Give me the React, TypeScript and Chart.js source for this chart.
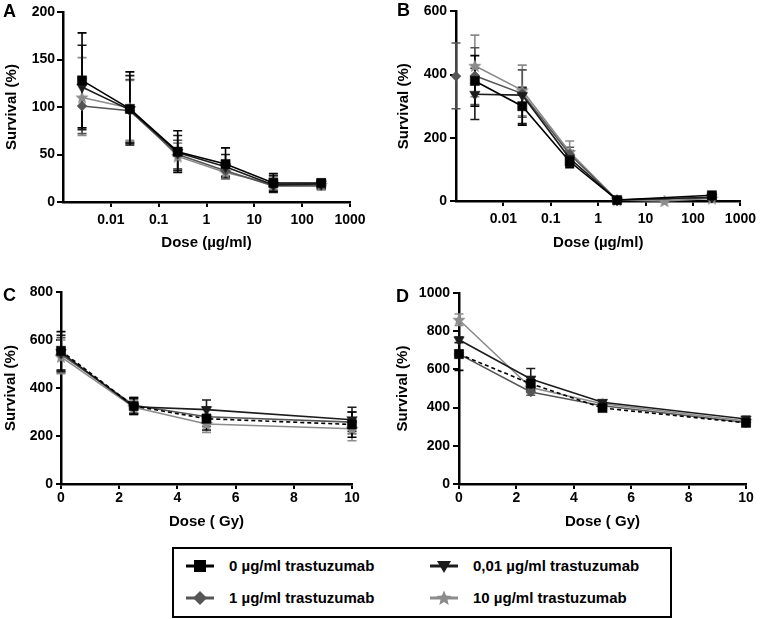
import React, { useEffect, useRef } from 'react';
import { Chart, registerables } from 'chart.js';
Chart.register(...registerables);

const FONT = '"Liberation Sans", Arial, Helvetica, sans-serif';

// ---------- shared ----------
const seriesNames = ['0 µg/ml trastuzumab', '0,01 µg/ml trastuzumab', '1 µg/ml trastuzumab', '10 µg/ml trastuzumab'];
const seriesColors = ['#000000', '#1c1c1c', '#555555', '#8c8c8c'];

// ---------- panels A & B (log dose) ----------
const doseAB = [0.0025, 0.025, 0.25, 2.5, 25, 250];
const logTickValues = [0.01, 0.1, 1, 10, 100, 1000];
const logTickLabels = ['0.01', '0.1', '1', '10', '100', '1000'];

const yTicksA = [0, 50, 100, 150, 200];
const aSq = [128, 98, 53, 40, 20, 20];
const aSqHi = [178, 137, 75, 57, 30, 24];
const aSqLo = [78, 60, 31, 27, 11, 15];
const aTri = [121, 97, 52, 37, 18, 19];
const aTriHi = [165, 133, 70, 50, 28, 23];
const aTriLo = [76, 62, 33, 26, 10, 14];
const aDia = [101, 96, 50, 33, 17, 17];
const aDiaHi = [130, 129, 65, 42, 25, 21];
const aDiaLo = [72, 63, 35, 25, 12, 13];
const aStar = [110, 99, 48, 31, 19, 18];
const aStarHi = [152, 128, 62, 40, 27, 22];
const aStarLo = [70, 65, 34, 24, 13, 14];

const yTicksB = [0, 200, 400, 600];
const bSq = [380, 300, 125, 3, null, 18];
const bSqHi = [460, 355, 145, 6, null, 25];
const bSqLo = [300, 240, 105, 0, null, 12];
const bTri = [338, 335, 135, 3, null, 12];
const bTriHi = [420, 360, 160, 6, null, 16];
const bTriLo = [258, 245, 110, 0, null, 8];
const bDia = [396, 340, 148, 3, null, 10];
const bDiaHi = [485, 415, 170, 6, null, 14];
const bDiaLo = [305, 265, 125, 0, null, 6];
const bStar = [428, 350, 155, 3, 0, 8];
const bStarHi = [525, 430, 190, 6, 2, 12];
const bStarLo = [330, 270, 120, 0, 0, 4];
// extra point drawn on the y axis of panel B
const bExtraDose = [0.001];
const bExtra = [395];
const bExtraHi = [500];
const bExtraLo = [292];

// ---------- panels C & D (Gy) ----------
const doseCD = [0, 2.5, 5, 10];
const xTicksGy = [0, 2, 4, 6, 8, 10];

const yTicksC = [0, 200, 400, 600, 800];
const cSq = [555, 325, 272, 248];
const cSqHi = [635, 360, 320, 300];
const cSqLo = [475, 290, 225, 195];
const cTri = [548, 322, 310, 268];
const cTriHi = [620, 355, 350, 320];
const cTriLo = [470, 295, 270, 220];
const cDia = [540, 328, 280, 258];
const cDiaHi = [610, 360, 320, 300];
const cDiaLo = [465, 295, 240, 210];
const cStar = [530, 320, 250, 230];
const cStarHi = [600, 350, 290, 270];
const cStarLo = [460, 290, 215, 180];

const yTicksD = [0, 200, 400, 600, 800, 1000];
const dSq = [680, 525, 398, 320];
const dSqHi = [700, 560, 420, 335];
const dSqLo = [595, 490, 385, 305];
const dTri = [755, 550, 428, 340];
const dTriHi = [770, 605, 440, 355];
const dTriLo = [740, 495, 415, 325];
const dDia = [680, 482, 410, 322];
const dDiaHi = [690, 500, 425, 330];
const dDiaLo = [670, 465, 395, 312];
const dStar = [860, 505, 420, 330];
const dStarHi = [890, 530, 435, 340];
const dStarLo = [830, 485, 405, 318];

// ---------- helpers ----------
let starCache: HTMLCanvasElement | null = null;
function starCanvas(): HTMLCanvasElement {
  if (starCache) return starCache;
  const r = 7;
  const s = r * 2 + 2;
  const c = document.createElement('canvas');
  c.width = s; c.height = s;
  const g = c.getContext('2d')!;
  g.fillStyle = seriesColors[3];
  g.beginPath();
  for (let i = 0; i < 10; i++) {
    const ang = -Math.PI / 2 + (i * Math.PI) / 5;
    const rr = i % 2 === 0 ? r : r * 0.45;
    const x = s / 2 + rr * Math.cos(ang);
    const y = s / 2 + rr * Math.sin(ang) + 0.5;
    if (i === 0) g.moveTo(x, y); else g.lineTo(x, y);
  }
  g.closePath();
  g.fill();
  starCache = c;
  return c;
}

function styleFor(i: number) {
  if (i === 0) return { pointStyle: 'rect', radius: 6.5, rotation: 0 };
  if (i === 1) return { pointStyle: 'triangle', radius: 6, rotation: 180 };
  if (i === 2) return { pointStyle: 'rectRot', radius: 5, rotation: 0 };
  return { pointStyle: starCanvas(), radius: 7, rotation: 0 };
}

function mkDataset(idx: number, xs: number[], ys: (number | null)[], hi: (number | null)[], lo: (number | null)[], dashed = false): any {
  const st = styleFor(idx);
  return {
    label: seriesNames[idx],
    data: xs.map((x, i) => ({ x, y: ys[i] })),
    errHi: hi,
    errLo: lo,
    borderColor: seriesColors[idx],
    backgroundColor: seriesColors[idx],
    borderWidth: 1.6,
    borderDash: dashed ? [4, 3] : [],
    pointStyle: st.pointStyle,
    pointRadius: st.radius,
    pointRotation: st.rotation,
    pointBorderWidth: 0.5,
    pointBorderColor: seriesColors[idx],
    spanGaps: true,
    clip: false,
    tension: 0,
  };
}

const errorBarPlugin = {
  id: 'errorBars',
  beforeDatasetsDraw(chart: any) {
    const ctx = chart.ctx;
    const xs = chart.scales.x;
    const ys = chart.scales.y;
    const dsets = chart.data.datasets;
    for (let d = dsets.length - 1; d >= 0; d--) {
      const ds = dsets[d];
      const hi = ds.errHi;
      const lo = ds.errLo;
      if (!hi || !lo) continue;
      ctx.save();
      ctx.strokeStyle = ds.borderColor;
      ctx.lineWidth = 1.6;
      ctx.setLineDash([]);
      ds.data.forEach((p: any, j: number) => {
        if (p == null || p.y == null || hi[j] == null || lo[j] == null) return;
        const x = xs.getPixelForValue(p.x);
        const yH = ys.getPixelForValue(hi[j]);
        const yL = ys.getPixelForValue(lo[j]);
        ctx.beginPath();
        ctx.moveTo(x, yH); ctx.lineTo(x, yL);
        ctx.moveTo(x - 4.5, yH); ctx.lineTo(x + 4.5, yH);
        ctx.moveTo(x - 4.5, yL); ctx.lineTo(x + 4.5, yL);
        ctx.stroke();
      });
      ctx.restore();
    }
  },
};

const tickFont = { family: FONT, size: 14, weight: 'bold' as const };
const titleFont = { family: FONT, size: 15, weight: 'bold' as const };

interface PanelCfg {
  xType: 'linear' | 'logarithmic';
  xMin: number; xMax: number;
  xTicks: number[]; xLabels: string[];
  yMax: number; yTicks: number[];
  padding: { left: number; top: number; right: number; bottom: number };
  yWidth: number; xHeight: number;
  xTickPad: number; yTickLen: number; yTickPad: number;
  xTitle: string;
  datasets: any[];
}

function buildConfig(cfg: PanelCfg): any {
  return {
    type: 'line',
    data: { datasets: cfg.datasets },
    plugins: [errorBarPlugin],
    options: {
      responsive: false,
      animation: false,
      devicePixelRatio: 1,
      events: [],
      layout: { padding: cfg.padding },
      plugins: { legend: { display: false }, tooltip: { enabled: false }, title: { display: false } },
      scales: {
        x: {
          type: cfg.xType,
          min: cfg.xMin,
          max: cfg.xMax,
          afterBuildTicks: (s: any) => { s.ticks = cfg.xTicks.map((v) => ({ value: v })); },
          afterFit: (s: any) => { s.height = cfg.xHeight; },
          ticks: {
            callback: (_v: any, i: number) => cfg.xLabels[i],
            font: tickFont, color: '#000', padding: cfg.xTickPad,
            maxRotation: 0, minRotation: 0, autoSkip: false,
          },
          grid: { drawOnChartArea: false, color: '#000', lineWidth: 2, tickLength: 5 },
          border: { color: '#000', width: 2.5 },
          title: { display: true, text: cfg.xTitle, font: titleFont, color: '#000', padding: 0 },
        },
        y: {
          type: 'linear',
          min: 0,
          max: cfg.yMax,
          afterBuildTicks: (s: any) => { s.ticks = cfg.yTicks.map((v) => ({ value: v })); },
          afterFit: (s: any) => { s.width = cfg.yWidth; },
          ticks: {
            callback: (_v: any, i: number) => String(cfg.yTicks[i]),
            font: tickFont, color: '#000', padding: cfg.yTickPad, autoSkip: false,
          },
          grid: { drawOnChartArea: false, color: '#000', lineWidth: 2, tickLength: cfg.yTickLen },
          border: { color: '#000', width: 2.5 },
          title: { display: true, text: 'Survival (%)', font: titleFont, color: '#000', padding: 0 },
        },
      },
    },
  };
}

function Panel(props: { left: number; top: number; width: number; height: number; make: () => any }) {
  const ref = useRef<HTMLCanvasElement>(null);
  useEffect(() => {
    const chart = new Chart(ref.current as HTMLCanvasElement, props.make());
    return () => chart.destroy();
  }, []);
  return (
    <canvas
      ref={ref}
      width={props.width}
      height={props.height}
      style={{ position: 'absolute', left: props.left, top: props.top, width: props.width, height: props.height }}
    />
  );
}

const makeA = () => buildConfig({
  xType: 'logarithmic', xMin: 0.001, xMax: 1000,
  xTicks: logTickValues, xLabels: logTickLabels,
  yMax: 200, yTicks: yTicksA,
  padding: { left: 3, top: 12, right: 30, bottom: 8 },
  yWidth: 60, xHeight: 50, xTickPad: 5, yTickLen: 6, yTickPad: 2,
  xTitle: 'Dose (µg/ml)',
  datasets: [
    mkDataset(0, doseAB, aSq, aSqHi, aSqLo),
    mkDataset(1, doseAB, aTri, aTriHi, aTriLo),
    mkDataset(2, doseAB, aDia, aDiaHi, aDiaLo),
    mkDataset(3, doseAB, aStar, aStarHi, aStarLo),
  ],
});

const makeB = () => {
  const extra = mkDataset(2, bExtraDose, bExtra, bExtraHi, bExtraLo);
  extra.showLine = false;
  extra.label = 'extra';
  return buildConfig({
    xType: 'logarithmic', xMin: 0.001, xMax: 1000,
    xTicks: logTickValues, xLabels: logTickLabels,
    yMax: 600, yTicks: yTicksB,
    padding: { left: 15, top: 10, right: 18, bottom: 8 },
    yWidth: 61, xHeight: 51, xTickPad: 5, yTickLen: 6, yTickPad: 3,
    xTitle: 'Dose (µg/ml)',
    datasets: [
      mkDataset(0, doseAB, bSq, bSqHi, bSqLo),
      mkDataset(1, doseAB, bTri, bTriHi, bTriLo),
      mkDataset(2, doseAB, bDia, bDiaHi, bDiaLo),
      mkDataset(3, doseAB, bStar, bStarHi, bStarLo),
      extra,
    ],
  });
};

const gyLabels = xTicksGy.map((v) => String(v));

const makeC = () => buildConfig({
  xType: 'linear', xMin: 0, xMax: 10,
  xTicks: xTicksGy, xLabels: gyLabels,
  yMax: 800, yTicks: yTicksC,
  padding: { left: 2, top: 32, right: 28, bottom: 14 },
  yWidth: 59, xHeight: 47, xTickPad: 1, yTickLen: 5, yTickPad: 3,
  xTitle: 'Dose ( Gy)',
  datasets: [
    mkDataset(0, doseCD, cSq, cSqHi, cSqLo, true),
    mkDataset(1, doseCD, cTri, cTriHi, cTriLo),
    mkDataset(2, doseCD, cDia, cDiaHi, cDiaLo),
    mkDataset(3, doseCD, cStar, cStarHi, cStarLo),
  ],
});

const makeD = () => buildConfig({
  xType: 'linear', xMin: 0, xMax: 10,
  xTicks: xTicksGy, xLabels: gyLabels,
  yMax: 1000, yTicks: yTicksD,
  padding: { left: 14, top: 33, right: 15, bottom: 14 },
  yWidth: 65, xHeight: 47, xTickPad: 1, yTickLen: 6, yTickPad: 3,
  xTitle: 'Dose ( Gy)',
  datasets: [
    mkDataset(0, doseCD, dSq, dSqHi, dSqLo, true),
    mkDataset(1, doseCD, dTri, dTriHi, dTriLo),
    mkDataset(2, doseCD, dDia, dDiaHi, dDiaLo),
    mkDataset(3, doseCD, dStar, dStarHi, dStarLo),
  ],
});

function LegendMarker({ idx }: { idx: number }) {
  const c = seriesColors[idx];
  let shape: any = null;
  if (idx === 0) shape = <rect x={10} y={2} width={12} height={12} fill={c} />;
  else if (idx === 1) shape = <polygon points="9,3 23,3 16,15" fill={c} />;
  else if (idx === 2) shape = <polygon points="16,1 23,8 16,15 9,8" fill={c} />;
  else {
    const pts: string[] = [];
    for (let i = 0; i < 10; i++) {
      const ang = -Math.PI / 2 + (i * Math.PI) / 5;
      const rr = i % 2 === 0 ? 8 : 3.6;
      pts.push(`${(16 + rr * Math.cos(ang)).toFixed(2)},${(8.5 + rr * Math.sin(ang)).toFixed(2)}`);
    }
    shape = <polygon points={pts.join(' ')} fill={c} />;
  }
  return (
    <svg width={32} height={16} style={{ display: 'block' }}>
      <line x1={2} y1={8} x2={30} y2={8} stroke={c} strokeWidth={3} />
      {shape}
    </svg>
  );
}

const legendCols = [200, 444];
const legendTextX = [229, 473];
const legendRows = [566, 598];
const legendOrder = [[0, 1], [2, 3]];

export default function App() {
  useEffect(() => {
    document.body.style.margin = '0';
  }, []);
  const letter = (t: string, left: number, top: number) => (
    <div style={{ position: 'absolute', left, top, fontFamily: FONT, fontWeight: 'bold', fontSize: 18, lineHeight: '18px', color: '#000' }}>{t}</div>
  );
  return (
    <div style={{ position: 'absolute', left: 0, top: 0, width: 761, height: 619, background: '#fff', overflow: 'hidden' }}>
      <Panel left={0} top={0} width={380} height={260} make={makeA} />
      <Panel left={380} top={0} width={381} height={260} make={makeB} />
      <Panel left={0} top={260} width={380} height={285} make={makeC} />
      <Panel left={380} top={260} width={381} height={285} make={makeD} />
      {letter('A', 3, 2)}
      {letter('B', 397, 1)}
      {letter('C', 3, 286)}
      {letter('D', 396, 287)}
      <div style={{ position: 'absolute', left: 172, top: 547, width: 496, height: 67, border: '2px solid #000', boxSizing: 'content-box' }} />
      {legendOrder.map((row, r) =>
        row.map((idx, c) => (
          <React.Fragment key={idx}>
            <div style={{ position: 'absolute', left: legendCols[c] - 16, top: legendRows[r] - 8 }}>
              <LegendMarker idx={idx} />
            </div>
            <div style={{ position: 'absolute', left: legendTextX[c], top: legendRows[r] - 9, fontFamily: FONT, fontWeight: 'bold', fontSize: 15, lineHeight: '18px', color: '#000', whiteSpace: 'nowrap' }}>
              {seriesNames[idx]}
            </div>
          </React.Fragment>
        ))
      )}
    </div>
  );
}
